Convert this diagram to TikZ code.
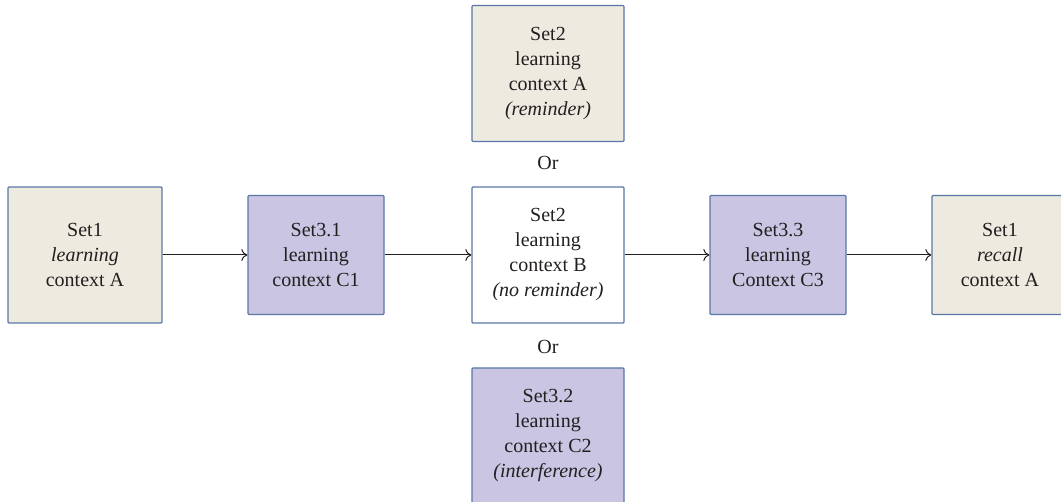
\documentclass[tikz,border=0pt]{standalone}
\usepackage{fontspec}
\setmainfont{Liberation Serif}
\newfontfamily\boxfont{Liberation Serif}
\usetikzlibrary{arrows.meta}
\definecolor{beige}{HTML}{EDEAE0}
\definecolor{lilac}{HTML}{C9C5E2}
\definecolor{edge}{HTML}{5A78A6}
\definecolor{ink}{HTML}{231F20}
\begin{document}
\begin{tikzpicture}[x=1pt,y=1pt,
  box/.style={draw=edge, line width=1.3pt, rounded corners=1pt, align=center, inner sep=0pt,
    text=ink, font=\boxfont\fontsize{20}{25}\selectfont},
  bigbox/.style={box, minimum width=152pt, minimum height=136pt},
  smallbox/.style={box, minimum width=136pt, minimum height=119pt},
  conn/.style={draw=ink, line width=1pt, -{To[length=6pt,width=12pt]}},
  ortext/.style={text=ink, font=\boxfont\fontsize{20}{25}\selectfont}]
\useasboundingbox (0,0) rectangle (1061,502);
\node[bigbox, fill=beige, minimum width=154pt] (b1) at (85,247) {Set1\\\textit{learning}\\context A};
\node[smallbox, fill=lilac] (b2) at (316,247) {Set3.1\\learning\\context C1};
\node[bigbox, fill=white] (b3) at (548,247) {Set2\\learning\\context B\\\textit{(no reminder)}};
\node[bigbox, fill=beige] (top) at (548,428.5) {Set2\\learning\\context A\\\textit{(reminder)}};
\node[bigbox, fill=lilac] (bot) at (548,66) {Set3.2\\learning\\context C2\\\textit{(interference)}};
\node[smallbox, fill=lilac] (b4) at (778,247) {Set3.3\\learning\\Context C3};
\node[smallbox, fill=beige] (b5) at (1000,247) {Set1\\\textit{recall}\\context A};
\node[ortext] (or1) at (548,339) {Or};
\node[ortext] (or2) at (548,155) {Or};
\draw[conn] (b1) -- (b2);
\draw[conn] (b2) -- (b3);
\draw[conn] (b3) -- (b4);
\draw[conn] (b4) -- (b5);
\end{tikzpicture}
\end{document}
